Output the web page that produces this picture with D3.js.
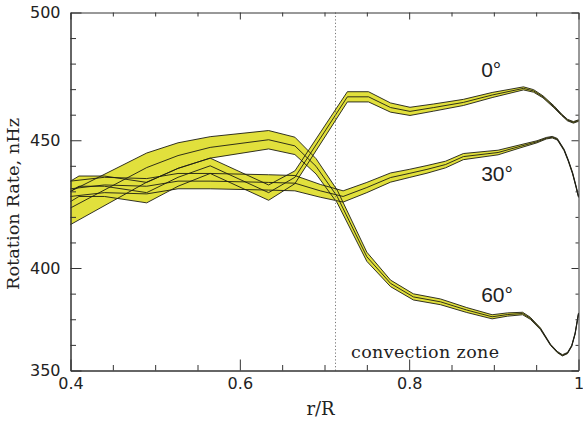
<!DOCTYPE html>
<html>
<head>
<meta charset="utf-8">
<script src="https://cdn.jsdelivr.net/npm/d3@7"></script>
<style>
  body { margin: 0; background: #fff; }
  svg { display: block; }
</style>
</head>
<body>
<svg id="chart" width="583" height="443"></svg>
<script>
// ---------- data ----------
// 0° latitude
const r0    = [0.400, 0.410, 0.440, 0.490, 0.527, 0.565, 0.634, 0.665, 0.727, 0.752, 0.778, 0.801, 0.829, 0.864, 0.898, 0.935, 0.947, 0.958, 0.971, 0.980, 0.987, 0.994, 1.000];
const rate0 = [430.0, 432.0, 432.0, 429.5, 435.5, 440.0, 429.5, 435.5, 467.0, 467.0, 462.8, 461.3, 462.8, 464.8, 467.7, 470.3, 469.3, 467.0, 463.1, 460.0, 457.9, 457.0, 457.7];
const err0  = [4.0,   4.0,   4.0,   4.0,   3.5,   3.0,   3.0,   2.5,   2.0,   2.0,   1.8,   1.6,   1.4,   1.2,   1.0,   0.6,   0.5,   0.4,   0.4,   0.3,   0.3,   0.3,   0.3];
// 30° latitude
const r30    = [0.400, 0.440, 0.490, 0.527, 0.565, 0.634, 0.665, 0.695, 0.722, 0.750, 0.778, 0.800, 0.821, 0.843, 0.864, 0.892, 0.905, 0.931, 0.951, 0.962, 0.969, 0.975, 0.983, 0.988, 0.993, 0.997, 1.000];
const rate30 = [431.0, 432.5, 432.0, 434.0, 434.0, 433.5, 433.2, 430.2, 428.0, 431.5, 435.4, 437.0, 438.6, 440.5, 443.6, 444.7, 445.2, 447.6, 449.4, 450.8, 451.2, 450.4, 446.2, 442.0, 437.1, 432.0, 427.9];
const err30  = [3.0,   3.0,   3.0,   3.0,   3.0,   3.0,   3.0,   2.5,   2.2,   2.0,   1.8,   1.6,   1.5,   1.3,   1.2,   1.0,   0.9,   0.6,   0.4,   0.3,   0.3,   0.3,   0.3,   0.3,   0.3,   0.3,   0.3];
// 60° latitude
const r60    = [0.400, 0.490, 0.527, 0.565, 0.634, 0.665, 0.690, 0.715, 0.750, 0.778, 0.805, 0.837, 0.868, 0.898, 0.916, 0.934, 0.943, 0.955, 0.967, 0.975, 0.981, 0.987, 0.992, 0.996, 1.000];
const rate60 = [423.5, 439.3, 444.0, 447.2, 450.2, 447.8, 439.8, 428.0, 404.4, 392.5, 385.9, 383.5, 379.5, 376.2, 377.3, 377.8, 375.5, 370.4, 362.5, 359.0, 357.4, 358.5, 362.0, 368.0, 377.8];
const err60  = [6.5,   5.7,   5.0,   4.2,   3.6,   3.4,   3.0,   2.5,   1.8,   1.6,   1.5,   1.4,   1.2,   1.0,   0.8,   0.6,   0.5,   0.4,   0.3,   0.3,   0.3,   0.3,   0.3,   0.3,   0.3];

const latitudeLabels = ["0°", "30°", "60°"];
const xTickValues = [0.4, 0.6, 0.8, 1.0];
const xTickLabels = ["0.4", "0.6", "0.8", "1"];
const xMinorTicks = [0.45, 0.5, 0.55, 0.65, 0.7, 0.75, 0.85, 0.9, 0.95];
const yTickValues = [500, 450, 400, 350];
const yTickLabels = ["500", "450", "400", "350"];
const yMinorTicks = [490, 480, 470, 460, 440, 430, 420, 410, 387.5, 375, 362.5];
const convectionBase = 0.713;
const xTitle = "r/R";
const yTitle = "Rotation Rate, nHz";
const zoneLabel = "convection zone";

// ---------- drawing ----------
const svg = d3.select("#chart");
const mLeft = 70.5, mRight = 578.5, mTop = 12.5, mBottom = 370.5;

const x = d3.scaleLinear().domain([0.4, 1.0]).range([mLeft, mRight]);
// the reference axis is compressed below 400 (350 sits at the frame bottom)
const y = d3.scaleLinear().domain([350, 400, 500]).range([mBottom, 268, mTop]);

const series = [
  { r: r0,  v: rate0,  e: err0 },
  { r: r30, v: rate30, e: err30 },
  { r: r60, v: rate60, e: err60 }
].map(s => s.r.map((r, i) => ({ r, v: s.v[i], e: s.e[i] })));

const fillColor = "#e1e03c";
const lineColor = "#1c1c14";

const area = d3.area().x(d => x(d.r)).y0(d => y(d.v - d.e)).y1(d => y(d.v + d.e));
const lineC = d3.line().x(d => x(d.r)).y(d => y(d.v));
const lineU = d3.line().x(d => x(d.r)).y(d => y(d.v + d.e));
const lineL = d3.line().x(d => x(d.r)).y(d => y(d.v - d.e));

const gData = svg.append("g");
series.forEach(s => {
  gData.append("path").attr("d", area(s)).attr("fill", fillColor).attr("stroke", "none");
});
series.forEach(s => {
  [lineU, lineC, lineL].forEach(gen => {
    gData.append("path").attr("d", gen(s)).attr("fill", "none")
      .attr("stroke", lineColor).attr("stroke-width", 0.9).attr("stroke-linejoin", "round");
  });
});

// dotted line at base of convection zone
svg.append("line")
  .attr("x1", x(convectionBase)).attr("x2", x(convectionBase))
  .attr("y1", y(500)).attr("y2", y(350))
  .attr("stroke", "#777").attr("stroke-width", 1).attr("stroke-dasharray", "1.2,2.2");

// ---------- axes ----------
const tickFont = "'DejaVu Sans', sans-serif";
function styleAxis(g, w) {
  g.selectAll("path.domain").attr("stroke", "#333").attr("stroke-width", w);
  g.selectAll("line").attr("stroke", "#333").attr("stroke-width", 1);
  g.selectAll("text").attr("font-family", tickFont).attr("font-size", 16).attr("fill", "#222");
}

// bottom
const gB = svg.append("g").attr("transform", `translate(0,${mBottom})`)
  .call(d3.axisBottom(x).tickValues(xTickValues).tickFormat((d, i) => xTickLabels[i])
    .tickSizeInner(-11).tickSizeOuter(0).tickPadding(7));
styleAxis(gB, 1.5);
svg.append("g").attr("transform", `translate(0,${mBottom})`)
  .call(d3.axisBottom(x).tickValues(xMinorTicks).tickFormat("").tickSizeInner(-5.5).tickSizeOuter(0))
  .call(g => { g.select("path.domain").remove(); g.selectAll("line").attr("stroke", "#333"); });

// top
const gT = svg.append("g").attr("transform", `translate(0,${mTop})`)
  .call(d3.axisTop(x).tickValues(xTickValues).tickFormat("").tickSizeInner(-7).tickSizeOuter(0));
styleAxis(gT, 1);
svg.append("g").attr("transform", `translate(0,${mTop})`)
  .call(d3.axisTop(x).tickValues(xMinorTicks).tickFormat("").tickSizeInner(-4).tickSizeOuter(0))
  .call(g => { g.select("path.domain").remove(); g.selectAll("line").attr("stroke", "#333"); });

// left
const gL = svg.append("g").attr("transform", `translate(${mLeft},0)`)
  .call(d3.axisLeft(y).tickValues(yTickValues).tickFormat((d, i) => yTickLabels[i])
    .tickSizeInner(-11).tickSizeOuter(0).tickPadding(10));
styleAxis(gL, 1.5);
svg.append("g").attr("transform", `translate(${mLeft},0)`)
  .call(d3.axisLeft(y).tickValues(yMinorTicks).tickFormat("").tickSizeInner(-5.5).tickSizeOuter(0))
  .call(g => { g.select("path.domain").remove(); g.selectAll("line").attr("stroke", "#333"); });

// right
const gR = svg.append("g").attr("transform", `translate(${mRight},0)`)
  .call(d3.axisRight(y).tickValues(yTickValues).tickFormat("").tickSizeInner(-7).tickSizeOuter(0));
styleAxis(gR, 1);
svg.append("g").attr("transform", `translate(${mRight},0)`)
  .call(d3.axisRight(y).tickValues(yMinorTicks).tickFormat("").tickSizeInner(-3).tickSizeOuter(0))
  .call(g => { g.select("path.domain").remove(); g.selectAll("line").attr("stroke", "#333"); });

// ---------- text ----------
const serif = "'DejaVu Serif', serif";
svg.append("text").text(xTitle)
  .attr("x", (mLeft + mRight) / 2 - 4).attr("y", 415)
  .attr("text-anchor", "middle").attr("font-family", serif).attr("font-size", 18).attr("fill", "#222");

svg.append("text").text(yTitle)
  .attr("transform", `translate(19,${204}) rotate(-90)`)
  .attr("text-anchor", "middle").attr("font-family", serif).attr("font-size", 17)
  .attr("textLength", 172).attr("lengthAdjust", "spacingAndGlyphs").attr("fill", "#222");

svg.append("text").text(zoneLabel)
  .attr("x", 351).attr("y", 358)
  .attr("font-family", serif).attr("font-size", 17.5)
  .attr("textLength", 148).attr("lengthAdjust", "spacing").attr("fill", "#222");

// latitude labels, anchored near each curve
const labelPos = [[0.885, 474.8], [0.885, 434.2], [0.885, 383.6]];
latitudeLabels.forEach((t, i) => {
  svg.append("text").text(t)
    .attr("x", x(labelPos[i][0])).attr("y", y(labelPos[i][1]))
    .attr("font-family", "'Liberation Sans', Arial, sans-serif").attr("font-size", 21).attr("fill", "#222");
});
</script>
</body>
</html>
